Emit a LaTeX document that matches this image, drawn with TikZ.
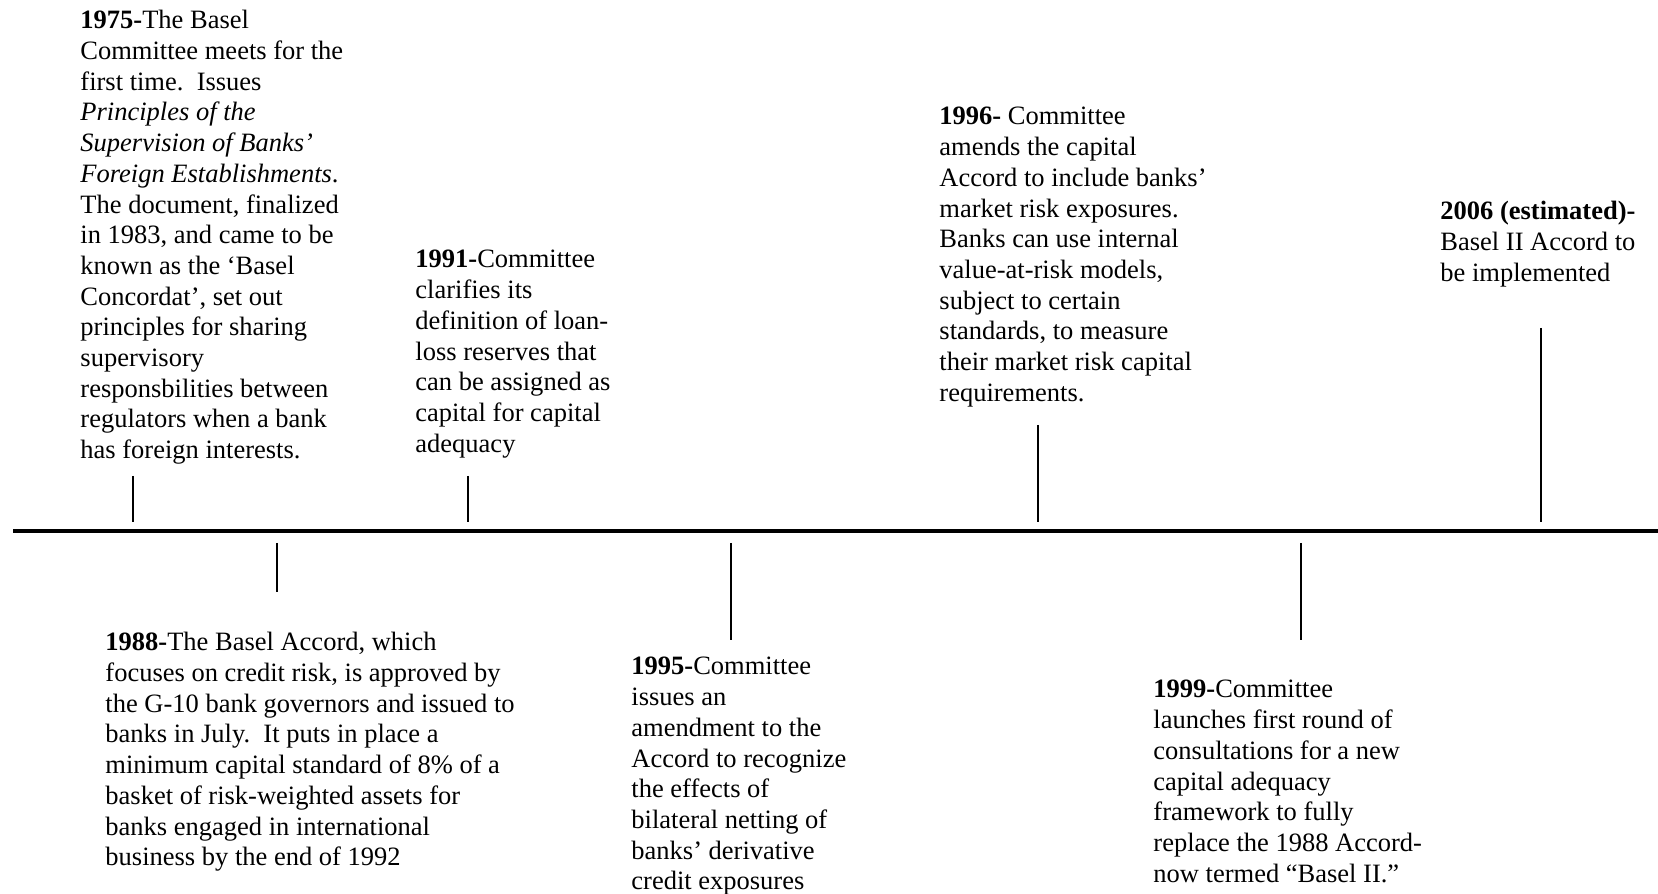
\documentclass[tikz,border=0pt]{standalone}
\usepackage{fontspec}
\setmainfont{Liberation Serif}

\begin{document}
\begin{tikzpicture}[
    x=0.4528pt, y=-0.4528pt,
    every node/.style = {
      anchor=north west,
      inner sep=0pt,
      align=left,
      font=\fontsize{12}{13.9}\selectfont
    },
    tick/.style = {line width=0.9pt},
    timeline/.style = {line width=1.4pt}
  ]
  \useasboundingbox (0,0) rectangle (1658,894);

  % the time axis
  \coordinate (start) at (13,531);
  \coordinate (end) at (1658,531);
  \draw[timeline] (start) -- (end);

  % events above the axis
  \node (e1975) at (80,10) {\textbf{1975-}The Basel\\Committee meets for the\\first time.\ \ Issues\\
      \textit{Principles of the}\\\textit{Supervision of Banks'}\\\textit{Foreign Establishments}.\\
      The document, finalized\\in 1983, and came to be\\known as the ‘Basel\\Concordat’, set out\\
      principles for sharing\\supervisory\\responsbilities between\\regulators when a bank\\has foreign interests.};
  \node (e1991) at (415,250) {\textbf{1991-}Committee\\clarifies its\\definition of loan-\\loss reserves that\\
      can be assigned as\\capital for capital\\adequacy};
  \node (e1996) at (939,107) {\textbf{1996-} Committee\\amends the capital\\Accord to include banks’\\
      market risk exposures.\\Banks can use internal\\value-at-risk models,\\subject to certain\\
      standards, to measure\\their market risk capital\\requirements.};
  \node (e2006) at (1440,201) {\textbf{2006 (estimated)-}\\Basel II Accord to\\be implemented};

  % events below the axis
  \node (e1988) at (105,632) {\textbf{1988-}The Basel Accord, which\\focuses on credit risk, is approved by\\
      the G-10 bank governors and issued to\\banks in July.\ \ It puts in place a\\
      minimum capital standard of 8\% of a\\basket of risk-weighted assets for\\
      banks engaged in international\\business by the end of 1992};
  \node (e1995) at (631,657) {\textbf{1995-}Committee\\issues an\\amendment to the\\Accord to recognize\\
      the effects of\\bilateral netting of\\banks’ derivative\\credit exposures};
  \node (e1999) at (1153,680) {\textbf{1999-}Committee\\launches first round of\\consultations for a new\\
      capital adequacy\\framework to fully\\replace the 1988 Accord-\\now termed “Basel II.”};

  % ticks
  \foreach \name/\x/\a/\b in {t1975/133/476/522, t1991/468/476/522, t1996/1038/425/522,
      t2006/1541/328/522, t1988/277/543/592, t1995/731/543/640, t1999/1301/543/640} {
    \coordinate (\name-a) at (\x,\a);
    \coordinate (\name-b) at (\x,\b);
    \draw[tick] (\name-a) -- (\name-b);
  }
\end{tikzpicture}
\end{document}
